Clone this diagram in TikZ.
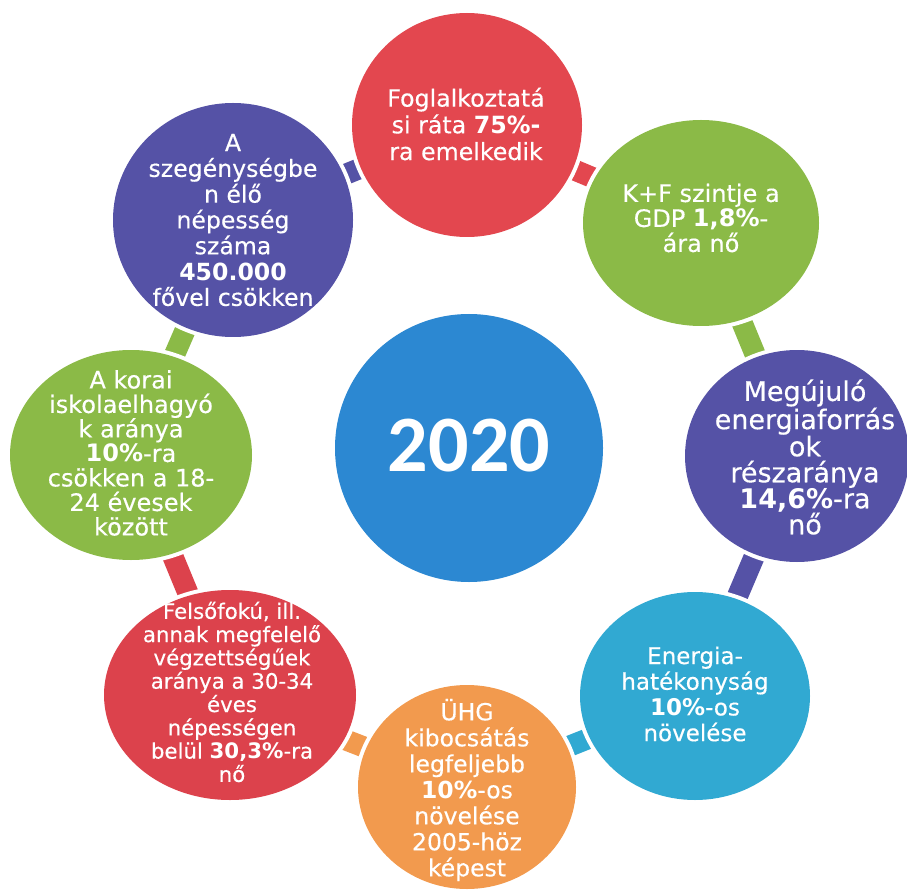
\documentclass[tikz,border=0pt]{standalone}
\usepackage{fontspec}
\setmainfont{DejaVu Sans}[UprightFeatures={FakeBold=0.35}]
\newfontfamily\yearfont{Carlito}
\definecolor{cred}{HTML}{E3474F}
\definecolor{cred2}{HTML}{DC424C}
\definecolor{cgreen}{HTML}{8BBA47}
\definecolor{cpurple}{HTML}{5552A6}
\definecolor{ccyan}{HTML}{31A9D2}
\definecolor{corange}{HTML}{F29A4E}
\definecolor{ccenter}{HTML}{2C88D2}
\newcommand{\bub}[4]{%
  \fill[white] (#1) ellipse [x radius=#2pt+4pt, y radius=#3pt+4pt];
  \fill[#4] (#1) ellipse [x radius=#2pt, y radius=#3pt];}
\newcommand{\fs}[2]{\fontsize{#1}{#2}\selectfont}
\tikzset{
  seg/.style={line width=21pt, line cap=butt},
  txt/.style={text=white, align=center, inner sep=0pt}
}
\begin{document}
\begin{tikzpicture}[x=1pt,y=-1pt]
\fill[white] (0,0) rectangle (907,890);
\useasboundingbox (0,0) rectangle (907,890);
% centres
\coordinate (c1) at (467,125);
\coordinate (c2) at (701,223);
\coordinate (c3) at (797,456);
\coordinate (c4) at (695,696);
\coordinate (c5) at (467,787);
\coordinate (c6) at (230,695);
\coordinate (c7) at (131,455);
\coordinate (c8) at (233,220);
\coordinate (c0) at (469,448);
% connectors
\draw[seg, cpurple] (c8) -- (c1);
\draw[seg, cred] (c1) -- (c2);
\draw[seg, cgreen] (c2) -- (c3);
\draw[seg, cpurple] (c3) -- (c4);
\draw[seg, ccyan] (c4) -- (c5);
\draw[seg, corange] (c5) -- (c6);
\draw[seg, cred2] (c6) -- (c7);
\draw[seg, cgreen] (c7) -- (c8);
% bubbles
\bub{c1}{115}{112}{cred}
\bub{c2}{118}{103}{cgreen}
\bub{c3}{112}{106}{cpurple}
\bub{c4}{115}{104}{ccyan}
\bub{c5}{109}{102}{corange}
\bub{c6}{126}{105}{cred2}
\bub{c7}{121}{105}{cgreen}
\bub{c8}{120}{117}{cpurple}
\fill[ccenter] (c0) circle [radius=134pt];
% texts
\node[txt, font=\fs{23.7}{26.7}] (t1) at (466,124) {Foglalkoztatá\\si ráta \textbf{75\%-}\\ra emelkedik};
\node[txt, font=\fs{24}{25}] (t2) at (701,218) {K+F szintje a\\GDP \textbf{1,8\%}-\\ára nő};
\node[txt, font=\fs{27}{26}] (t3) at (805,457) {Megújuló\\energiaforrás\\ok\\részaránya\\\textbf{14,6\%}-ra\\nő};
\node[txt, font=\fs{23}{25.7}] (t4) at (695,694) {Energia-\\hatékonyság\\\textbf{10\%}-os\\növelése};
\node[txt, font=\fs{23.5}{26}] (t5) at (467,790) {ÜHG\\kibocsátás\\legfeljebb\\\textbf{10\%}-os\\növelése\\2005-höz\\képest};
\node[txt, font=\fs{21.3}{23.3}] (t6) at (232,692) {Felsőfokú, ill.\\annak megfelelő\\végzettségűek\\aránya a 30-34\\éves\\népességen\\belül \textbf{30,3\%}-ra\\nő};
\node[txt, font=\fs{24}{24.5}] (t7) at (131,453) {A korai\\iskolaelhagyó\\k aránya\\\textbf{10\%}-ra\\csökken a 18-\\24 évesek\\között};
\node[txt, font=\fs{23.6}{25.8}] (t8) at (233,220) {A\\szegénységbe\\n élő\\népesség\\száma\\\textbf{450.000}\\fővel csökken};
\node[txt, font=\yearfont\bfseries\fs{80}{80}] (t0) at (469,446) {2020};
\end{tikzpicture}
\end{document}
